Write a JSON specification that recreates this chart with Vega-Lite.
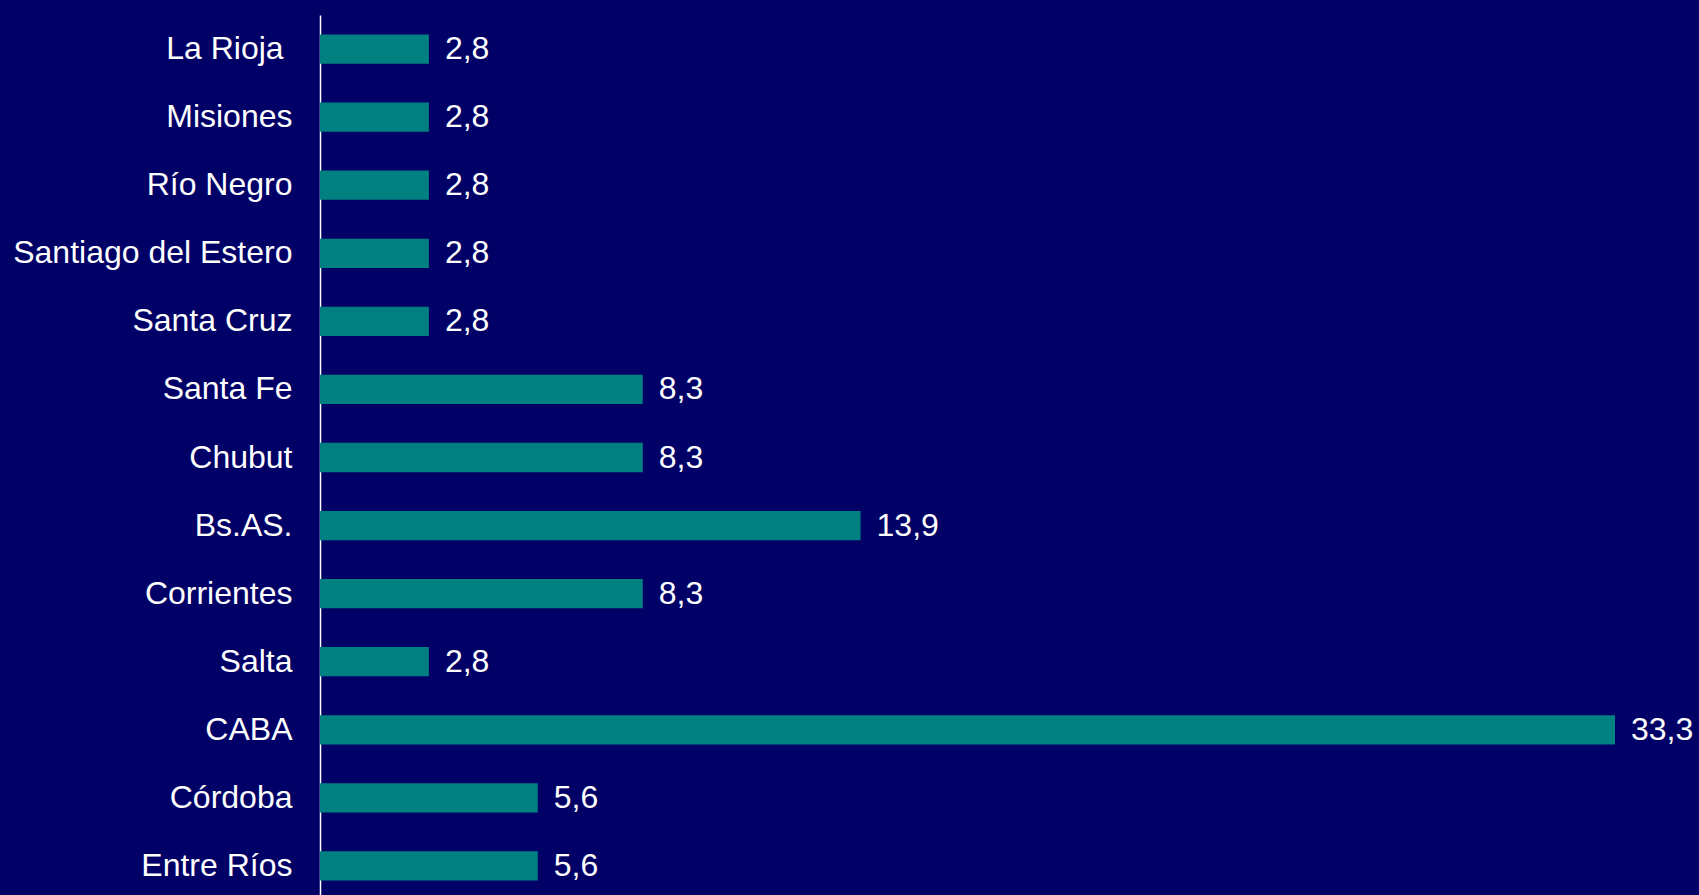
{
  "$schema": "https://vega.github.io/schema/vega-lite/v6.json",
  "width": 1295,
  "height": 885,
  "autosize": {"type": "none"},
  "padding": {"left": 320, "top": 15, "right": 84, "bottom": 0},
  "background": "#000066",
  "config": {
    "view": {"stroke": null},
    "font": "Liberation Sans",
    "locale": {"number": {"decimal": ",", "thousands": ".", "grouping": [3], "currency": ["", ""]}}
  },
  "data": {
    "values": [
      {"provincia": "La Rioja\u00a0\u200b", "valor": 2.8},
      {"provincia": "Misiones", "valor": 2.8},
      {"provincia": "Río Negro", "valor": 2.8},
      {"provincia": "Santiago del Estero", "valor": 2.8},
      {"provincia": "Santa Cruz", "valor": 2.8},
      {"provincia": "Santa Fe", "valor": 8.3},
      {"provincia": "Chubut", "valor": 8.3},
      {"provincia": "Bs.AS.", "valor": 13.9},
      {"provincia": "Corrientes", "valor": 8.3},
      {"provincia": "Salta", "valor": 2.8},
      {"provincia": "CABA", "valor": 33.3},
      {"provincia": "Córdoba", "valor": 5.6},
      {"provincia": "Entre Ríos", "valor": 5.6}
    ]
  },
  "encoding": {
    "y": {
      "field": "provincia",
      "type": "nominal",
      "sort": null,
      "scale": {"paddingInner": 0.57, "paddingOuter": 0.285},
      "axis": {
        "title": null,
        "ticks": false,
        "domainColor": "#ffffff",
        "domainWidth": 1.5,
        "labelColor": "#ffffff",
        "labelFontSize": 32,
        "labelFont": "Liberation Sans",
        "labelPadding": 28,
        "labelLimit": 400
      }
    },
    "x": {
      "field": "valor",
      "type": "quantitative",
      "scale": {"domain": [0, 33.3], "nice": false, "zero": true},
      "axis": null
    }
  },
  "layer": [
    {"mark": {"type": "bar", "color": "#008080"}},
    {
      "mark": {"type": "text", "align": "left", "baseline": "middle", "dx": 16, "fontSize": 32, "color": "#ffffff", "font": "Liberation Sans"},
      "encoding": {"text": {"field": "valor", "type": "quantitative", "format": ".1f"}}
    }
  ]
}
